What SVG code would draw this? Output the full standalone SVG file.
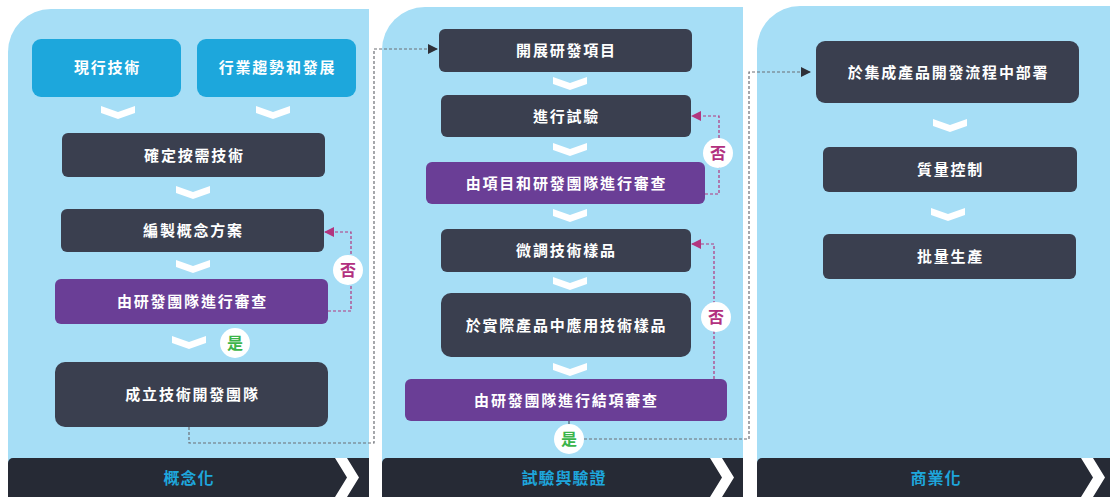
<svg xmlns="http://www.w3.org/2000/svg" width="1110" height="497" viewBox="0 0 1110 497">
<style>
.panel{fill:#a6def6}
.bar{fill:#262a35}
.barchev{fill:#ffffff}
.dark{fill:#3a3f4f}
.blue{fill:#1da7dc}
.purple{fill:#6a3e96}
.chev{fill:#ffffff}
.t{font-family:"Liberation Serif","Noto Sans CJK TC",serif;font-size:15px;font-weight:bold;fill:#ffffff;text-anchor:middle;letter-spacing:1.8px}
.bt{font-family:"Liberation Serif","Noto Sans CJK TC",serif;font-size:16px;font-weight:bold;fill:#1ea6dc;text-anchor:middle;letter-spacing:1px}
.gray{fill:none;stroke:#6b6e75;stroke-width:1.2;stroke-dasharray:3 2}
.mag{fill:none;stroke:#b2367f;stroke-width:1.2;stroke-dasharray:3 2}
.circ{fill:#ffffff}
.no{font-family:"Liberation Serif","Noto Sans CJK TC",serif;font-size:16px;font-weight:bold;fill:#b2307e;text-anchor:middle}
.yes{font-family:"Liberation Serif","Noto Sans CJK TC",serif;font-size:16px;font-weight:bold;fill:#3bb54a;text-anchor:middle}
</style>
<defs>
<marker id="ag" viewBox="0 0 10 10" refX="9" refY="5" markerWidth="10" markerHeight="10" markerUnits="userSpaceOnUse" orient="auto"><path d="M0,0 L10,5 L0,10 Z" fill="#2e3038"/></marker>
<marker id="am" viewBox="0 0 10 10" refX="9" refY="5" markerWidth="10" markerHeight="10" markerUnits="userSpaceOnUse" orient="auto"><path d="M0,0 L10,5 L0,10 Z" fill="#b2367f"/></marker>
<polygon id="chv" points="0,0 17,6 34,0 34,7 17,13 0,7"/>
</defs>
<rect width="1110" height="497" fill="#ffffff"/>
<g id="panels">
<path class="panel" d="M8,497 V52 A43,43 0 0 1 51,9 H369 V497 Z"/>
<path class="panel" d="M382,497 V50 A43,43 0 0 1 425,7 H743 V497 Z"/>
<path class="panel" d="M757,497 V49 A43,43 0 0 1 800,6 H1110 V497 Z"/>
</g>
<g id="bars">
<g id="bar1"><path class="bar" d="M8,497 V463 A5,5 0 0 1 13,458 H369 V497 Z"/><polygon class="barchev" points="335,458 347,458 359,477.5 347,497 335,497 347,477.5"/><text class="bt" x="189" y="483.5">概念化</text></g>
<g id="bar2"><path class="bar" d="M382,497 V463 A5,5 0 0 1 387,458 H743 V497 Z"/><polygon class="barchev" points="710,458 722,458 734,477.5 722,497 710,497 722,477.5"/><text class="bt" x="564" y="483.5">試驗與驗證</text></g>
<g id="bar3"><path class="bar" d="M757,497 V463 A5,5 0 0 1 762,458 H1110 V497 Z"/><polygon class="barchev" points="1081,458 1093,458 1105,477.5 1093,497 1081,497 1093,477.5"/><text class="bt" x="936" y="483.5">商業化</text></g>
</g>
<g id="chevrons" class="chev">
<use href="#chv" x="101" y="106"/>
<use href="#chv" x="256" y="106"/>
<use href="#chv" x="176" y="186"/>
<use href="#chv" x="176" y="260"/>
<use href="#chv" x="172" y="336"/>
<use href="#chv" x="553" y="77"/>
<use href="#chv" x="553" y="143"/>
<use href="#chv" x="553" y="209"/>
<use href="#chv" x="553" y="277"/>
<use href="#chv" x="553" y="363"/>
<use href="#chv" x="933" y="119"/>
<use href="#chv" x="931" y="208"/>
</g>
<g id="connectors">
<path class="gray" d="M189,427 V443 H374 V49 H437" marker-end="url(#ag)"/>
<line x1="569" y1="421" x2="569" y2="425" stroke="#3a3f4f" stroke-width="1"/>
<path class="gray" d="M584,439 H749 V72 H810" marker-end="url(#ag)"/>
<path class="mag" d="M328,311 H351 V232 H325" marker-end="url(#am)"/>
<path class="mag" d="M705,194 H719 V116 H692" marker-end="url(#am)"/>
<path class="mag" d="M714,379 V244 H692" marker-end="url(#am)"/>
</g>
<g id="n-xianxing"><rect class="blue" x="32" y="39" width="149" height="58" rx="9"/><text class="t" x="107.5" y="73">現行技術</text></g>
<g id="n-hangye"><rect class="blue" x="197" y="39" width="159" height="58" rx="9"/><text class="t" x="277.5" y="73">行業趨勢和發展</text></g>
<g id="n-queding"><rect class="dark" x="62" y="133" width="263" height="44" rx="6"/><text class="t" x="194.5" y="160.5">確定按需技術</text></g>
<g id="n-bianzhi"><rect class="dark" x="61" y="209" width="263" height="43" rx="6"/><text class="t" x="193.5" y="236">編製概念方案</text></g>
<g id="n-shencha1"><rect class="purple" x="55" y="279" width="273" height="45" rx="6"/><text class="t" x="192.5" y="306.5">由研發團隊進行審查</text></g>
<g id="c-no1"><circle class="circ" cx="348" cy="270" r="15"/><text class="no" x="348" y="276">否</text></g>
<g id="c-yes1"><circle class="circ" cx="235" cy="343" r="15"/><text class="yes" x="235" y="349">是</text></g>
<g id="n-chengli"><rect class="dark" x="55" y="362" width="273" height="65" rx="10"/><text class="t" x="192.5" y="400">成立技術開發團隊</text></g>
<g id="n-kaizhan"><rect class="dark" x="439" y="29" width="253" height="43" rx="6"/><text class="t" x="566.5" y="56">開展研發項目</text></g>
<g id="n-shiyan"><rect class="dark" x="441" y="95" width="250" height="42" rx="6"/><text class="t" x="566.5" y="121.5">進行試驗</text></g>
<g id="n-shencha2"><rect class="purple" x="426" y="162" width="279" height="42" rx="6"/><text class="t" x="566.5" y="188.5">由項目和研發團隊進行審查</text></g>
<g id="c-no2"><circle class="circ" cx="718" cy="153" r="15"/><text class="no" x="718" y="159">否</text></g>
<g id="n-weitiao"><rect class="dark" x="441" y="229" width="250" height="43" rx="6"/><text class="t" x="566.5" y="256">微調技術樣品</text></g>
<g id="n-yingyong"><rect class="dark" x="441" y="293" width="250" height="64" rx="10"/><text class="t" x="566.5" y="330.5">於實際產品中應用技術樣品</text></g>
<g id="c-no3"><circle class="circ" cx="716" cy="317" r="15"/><text class="no" x="716" y="323">否</text></g>
<g id="n-jiexiang"><rect class="purple" x="405" y="379" width="322" height="42" rx="6"/><text class="t" x="566.5" y="405.5">由研發團隊進行結項審查</text></g>
<g id="c-yes2"><circle class="circ" cx="569" cy="439" r="15"/><text class="yes" x="569" y="445">是</text></g>
<g id="n-jicheng"><rect class="dark" x="816" y="41" width="263" height="62" rx="9"/><text class="t" x="948.5" y="77.5">於集成產品開發流程中部署</text></g>
<g id="n-zhiliang"><rect class="dark" x="823" y="147" width="254" height="45" rx="6"/><text class="t" x="950.5" y="174.5">質量控制</text></g>
<g id="n-piliang"><rect class="dark" x="823" y="234" width="253" height="45" rx="6"/><text class="t" x="950.5" y="261.5">批量生產</text></g>
</svg>
